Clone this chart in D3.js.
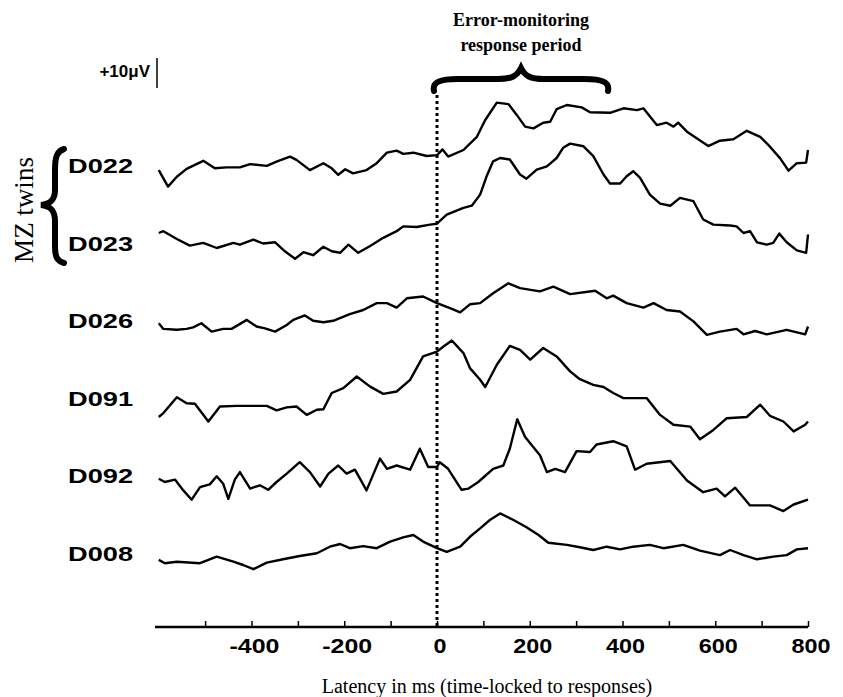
<!DOCTYPE html>
<html><head><meta charset="utf-8">
<script src="https://cdn.jsdelivr.net/npm/d3@7"></script>
<style>body{margin:0;background:#fff}svg{display:block}</style>
</head><body>
<svg id="c" width="843" height="697"></svg>
<script>
// ---- data (ms, μV) ----
const subjects = ["D022","D023","D026","D091","D092","D008"];
const D022 = [[-600,-1.7],[-580,-7.2],[-561,-3.9],[-540,-1.3],[-504,1.4],[-479,-1.1],[-454,-0.8],[-425,-0.8],[-403,0.3],[-367,-0.3],[-346,1.1],[-317,2.8],[-303,1.7],[-274,-1.7],[-245,0.6],[-227,-1.1],[-213,-3.3],[-198,-1.4],[-181,-2.8],[-152,-1.7],[-130,0.6],[-108,4.1],[-87,4.8],[-73,3.7],[-51,4.1],[-22,3.0],[0,3.3],[12,5.2],[24,2.8],[57,5.0],[86,9.4],[104,15.0],[129,20.8],[154,20.3],[172,16.7],[190,12.8],[208,12.2],[229,14.1],[244,14.4],[258,18.6],[280,20.0],[312,19.2],[330,17.6],[373,17.4],[402,18.9],[431,18.3],[445,18.9],[474,13.3],[495,14.1],[510,12.8],[520,14.1],[539,11.1],[560,8.9],[585,6.3],[610,8.1],[639,8.6],[668,11.4],[697,9.4],[718,6.1],[740,2.2],[758,-1.9],[776,0.6],[796,0.8],[800,5.0]];
const D023 = [[-600,3.2],[-590,3.8],[-561,1.2],[-533,-1.0],[-504,-0.1],[-475,-1.8],[-439,-0.1],[-425,-0.7],[-396,1.0],[-375,-0.3],[-349,0.1],[-328,-2.9],[-306,-5.4],[-288,-3.2],[-267,-4.2],[-245,-1.4],[-227,-2.9],[-209,-3.4],[-191,-0.7],[-170,-3.4],[-145,-1.2],[-116,1.6],[-87,3.8],[-73,5.4],[-44,5.2],[-15,6.0],[0,6.3],[21,9.3],[57,11.6],[75,12.3],[93,16.0],[107,22.1],[121,27.1],[136,28.2],[157,27.7],[179,22.7],[193,21.3],[215,24.3],[237,25.4],[258,28.2],[272,31.6],[287,33.0],[316,32.1],[337,28.8],[359,22.7],[373,19.7],[395,19.7],[409,22.1],[423,23.8],[438,21.6],[459,16.0],[481,13.0],[503,12.3],[524,14.9],[553,13.8],[574,7.7],[596,6.0],[632,5.7],[646,5.4],[661,3.2],[675,3.8],[690,0.1],[711,-0.7],[725,-0.1],[738,3.0],[754,0.1],[776,-2.6],[796,-3.4],[800,2.7]];
const D026 = [[-600,-1.0],[-590,-2.9],[-561,-3.2],[-540,-2.9],[-526,-2.4],[-508,-1.0],[-486,-3.8],[-461,-2.9],[-443,-2.9],[-410,0.1],[-389,-2.1],[-371,-2.7],[-349,-3.8],[-324,-1.6],[-310,0.1],[-285,1.6],[-267,-0.2],[-245,-0.7],[-224,-0.2],[-188,2.0],[-159,3.4],[-130,5.7],[-108,5.7],[-87,4.2],[-65,7.3],[-30,7.9],[0,5.7],[28,4.0],[50,2.6],[71,5.3],[93,5.7],[121,9.0],[154,12.3],[179,10.7],[222,9.6],[251,11.2],[287,8.7],[341,9.8],[366,7.3],[380,8.2],[409,5.7],[445,4.2],[467,5.7],[495,3.4],[524,2.9],[553,-0.4],[582,-4.9],[610,-3.8],[646,-2.9],[661,-4.7],[686,-3.6],[711,-4.7],[754,-3.2],[794,-4.7],[800,-2.1]];
const D091 = [[-600,-6.4],[-590,-5.1],[-561,0.2],[-540,-1.8],[-522,-2.0],[-493,-7.9],[-468,-2.9],[-432,-2.7],[-403,-2.7],[-367,-2.7],[-346,-4.2],[-324,-3.2],[-303,-2.9],[-281,-5.7],[-259,-4.0],[-245,-3.8],[-227,1.6],[-202,3.2],[-173,7.1],[-145,3.8],[-116,1.3],[-87,2.1],[-58,6.0],[-30,13.8],[0,15.4],[14,17.1],[32,19.1],[57,14.9],[71,9.9],[93,6.0],[104,3.6],[129,11.0],[157,17.3],[179,16.0],[201,12.7],[229,16.6],[258,13.8],[287,8.8],[308,6.2],[337,4.3],[359,3.6],[380,1.6],[402,-0.1],[452,-0.1],[481,-5.7],[510,-9.0],[546,-9.6],[567,-13.8],[596,-10.7],[625,-6.8],[668,-6.4],[697,-2.3],[718,-6.0],[747,-7.9],[769,-11.2],[794,-9.0],[800,-7.9]];
const D092 = [[-600,-1.1],[-587,-2.2],[-565,-1.4],[-547,-5.0],[-529,-8.1],[-511,-3.9],[-490,-3.0],[-475,-0.3],[-461,-2.8],[-450,-7.8],[-436,-1.4],[-425,1.1],[-403,-4.4],[-382,-3.3],[-364,-4.8],[-346,-2.2],[-324,0.6],[-296,4.4],[-274,1.1],[-252,-3.7],[-234,0.6],[-213,3.3],[-195,0.6],[-177,1.9],[-152,-5.0],[-123,5.6],[-108,2.2],[-87,3.3],[-58,1.9],[-37,8.9],[-19,2.8],[0,2.8],[6,4.4],[24,2.2],[53,-4.8],[68,-4.4],[89,-2.2],[121,2.2],[143,3.3],[157,8.9],[173,18.7],[190,12.8],[222,6.7],[237,1.1],[255,2.2],[276,1.1],[301,8.1],[330,7.8],[344,10.3],[380,11.4],[409,9.7],[427,1.9],[452,3.9],[503,4.8],[539,-1.7],[574,-5.6],[603,-4.4],[621,-7.0],[643,-4.1],[675,-10.0],[718,-10.0],[747,-11.9],[769,-9.7],[800,-8.1]];
const D008 = [[-600,-2.3],[-587,-3.4],[-561,-2.9],[-511,-3.4],[-475,-1.2],[-439,-2.9],[-418,-4.0],[-396,-5.4],[-367,-3.2],[-332,-2.1],[-296,-1.0],[-259,-0.1],[-231,2.1],[-209,3.0],[-188,1.6],[-159,2.3],[-130,1.6],[-101,3.8],[-73,5.2],[-51,6.0],[-30,3.8],[0,1.6],[21,0.4],[50,2.1],[71,5.4],[93,8.2],[114,11.0],[136,13.2],[165,11.0],[193,8.6],[219,6.0],[240,3.4],[280,2.7],[308,1.9],[337,1.0],[366,2.1],[395,1.2],[423,2.1],[459,2.7],[488,1.6],[531,2.7],[567,0.8],[610,-0.7],[632,1.0],[661,-0.7],[690,-2.1],[725,-1.2],[754,-0.7],[776,1.2],[800,1.6]];
const traces = [D022, D023, D026, D091, D092, D008];
const xTicks = [-500,-400,-300,-200,-100,0,100,200,300,400,500,600,700,800];
const xTickLabels = [-400,-200,0,200,400,600,800];
const scaleBarUV = 10;
const titleLines = ["Error-monitoring","response period"];
const xTitle = "Latency in ms (time-locked to responses)";
const groupLabel = "MZ twins";

// ---- drawing ----
const svg = d3.select("#c");
const x = d3.scaleLinear().domain([-600, 800]).range([158.75, 808]);
const amp = d3.scaleLinear().domain([0, 10]).range([0, -30]);
const row = d3.scalePoint().domain(subjects).range([165, 553]);
const axisY = 627;

// traces
const line = d3.line().x(d => x(d[0]));
traces.forEach((tr, i) => {
  const base = row(subjects[i]);
  svg.append("path")
    .attr("d", line.y(d => base + amp(d[1]))(tr))
    .attr("fill", "none").attr("stroke", "#000")
    .attr("stroke-width", 2.4).attr("stroke-linejoin", "round");
});

// subject labels
const sans = "'Liberation Sans', Arial, sans-serif";
const serif = "'Liberation Serif', 'Times New Roman', serif";
svg.selectAll("text.sub").data(subjects).join("text")
  .attr("class","sub")
  .attr("x", 68).attr("y", d => row(d) + 8)
  .attr("font-family", sans).attr("font-weight", "bold").attr("font-size", 21)
  .attr("textLength", 65).attr("lengthAdjust", "spacingAndGlyphs")
  .text(d => d);

// x axis
svg.append("line").attr("x1", 155).attr("x2", x(800)).attr("y1", axisY).attr("y2", axisY)
  .attr("stroke", "#000").attr("stroke-width", 2.5);
const axis = d3.axisTop(x).tickValues(xTicks).tickSize(6).tickFormat("");
const ag = svg.append("g").attr("transform", `translate(0,${axisY})`).call(axis);
ag.select(".domain").remove();
ag.selectAll(".tick line").attr("stroke-width", 1.5);
svg.selectAll("text.xl").data(xTickLabels).join("text")
  .attr("class","xl")
  .attr("x", d => x(d) + 3).attr("y", axisY + 26)
  .attr("text-anchor", "middle")
  .attr("font-family", sans).attr("font-weight", "bold").attr("font-size", 21)
  .attr("textLength", d => String(d).length * 13 + (d < 0 ? -2 : 0)).attr("lengthAdjust", "spacingAndGlyphs")
  .text(d => d);

// dotted zero line
svg.append("line").attr("x1", x(0)).attr("x2", x(0)).attr("y1", 95).attr("y2", axisY)
  .attr("stroke", "#000").attr("stroke-width", 3).attr("stroke-dasharray", "3,3");

// x title
svg.append("text").attr("x", 487).attr("y", 693).attr("text-anchor", "middle")
  .attr("font-family", serif).attr("font-size", 20).text(xTitle);

// top title
titleLines.forEach((t, i) => {
  svg.append("text").attr("x", 521).attr("y", 26 + i * 25).attr("text-anchor", "middle")
    .attr("font-family", serif).attr("font-weight", "bold").attr("font-size", 18).text(t);
});

// horizontal brace over response period
svg.append("path")
  .attr("d", "M434,91 C432,82 440,79 458,79 L498,79 C512,79 517,76 521,68 C525,76 530,79 544,79 L584,79 C602,79 610,82 608,91")
  .attr("fill", "none").attr("stroke", "#000").attr("stroke-width", 6).attr("stroke-linecap", "round");

// scale bar
svg.append("line").attr("x1", 157).attr("x2", 157).attr("y1", 88).attr("y2", 88 + amp(scaleBarUV))
  .attr("stroke", "#000").attr("stroke-width", 1.5);
svg.append("text").attr("x", 150).attr("y", 77).attr("text-anchor", "end")
  .attr("font-family", sans).attr("font-weight", "bold").attr("font-size", 17).text("+10μV");

// MZ twins brace + label
svg.append("path")
  .attr("d", "M64,149 C57,151 55,157 55,170 L55,190 C55,200 50,204 41,205 C50,206 55,210 55,221 L55,246 C55,257 57,261 64,263")
  .attr("fill", "none").attr("stroke", "#000").attr("stroke-width", 6).attr("stroke-linecap", "round");
svg.append("text").attr("transform", "translate(33,210) rotate(-90)").attr("text-anchor", "middle")
  .attr("font-family", serif).attr("font-size", 27).text(groupLabel);
</script>
</body></html>
